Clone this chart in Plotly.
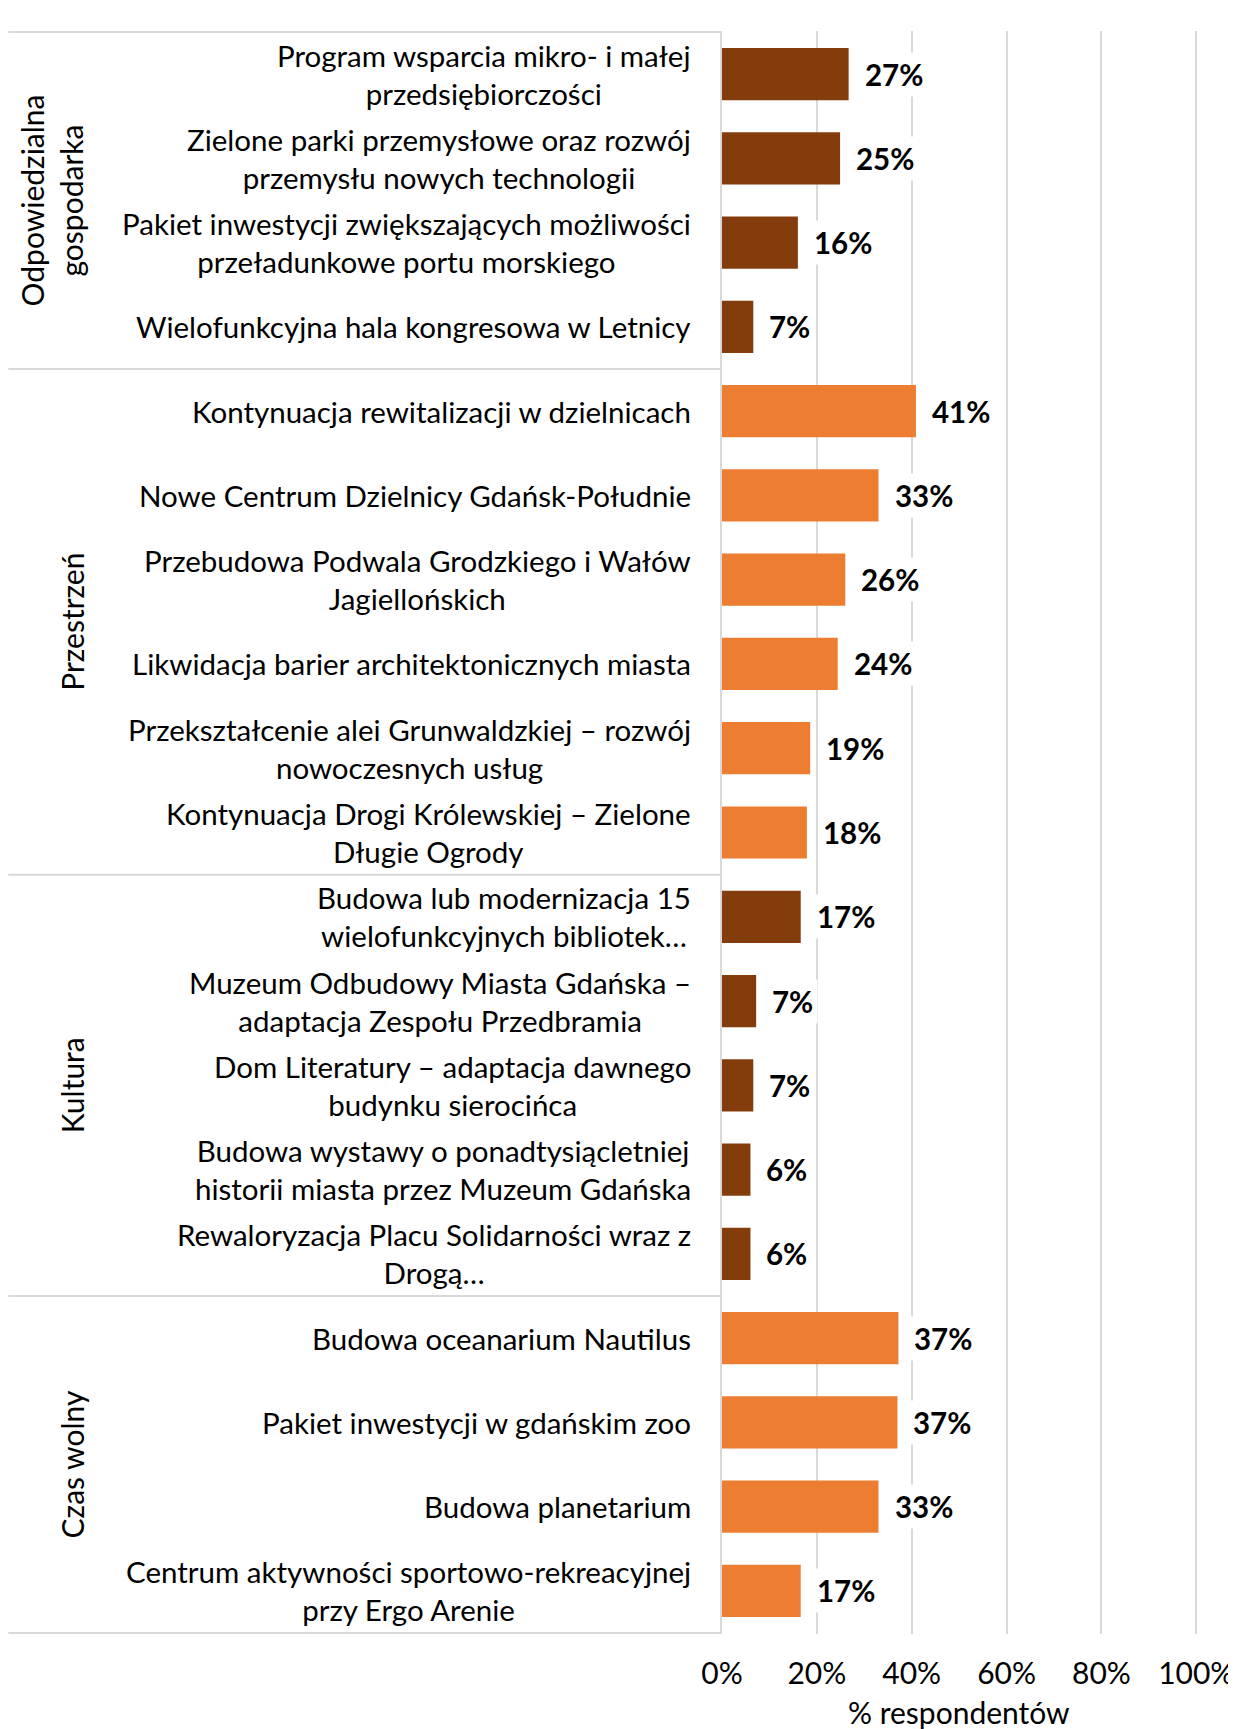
import plotly.graph_objects as go

# ---- data ----
categories = [
    "Program wsparcia mikro- i małej<br>przedsiębiorczości",
    "Zielone parki przemysłowe oraz rozwój<br>przemysłu nowych technologii",
    "Pakiet inwestycji zwiększających możliwości<br>przeładunkowe portu morskiego",
    "Wielofunkcyjna hala kongresowa w Letnicy",
    "Kontynuacja rewitalizacji w dzielnicach",
    "Nowe Centrum Dzielnicy Gdańsk-Południe",
    "Przebudowa Podwala Grodzkiego i Wałów<br>Jagiellońskich",
    "Likwidacja barier architektonicznych miasta",
    "Przekształcenie alei Grunwaldzkiej – rozwój<br>nowoczesnych usług",
    "Kontynuacja Drogi Królewskiej – Zielone<br>Długie Ogrody",
    "Budowa lub modernizacja 15<br>wielofunkcyjnych bibliotek…",
    "Muzeum Odbudowy Miasta Gdańska –<br>adaptacja Zespołu Przedbramia",
    "Dom Literatury – adaptacja dawnego<br>budynku sierocińca",
    "Budowa wystawy o ponadtysiącletniej<br>historii miasta przez Muzeum Gdańska",
    "Rewaloryzacja Placu Solidarności wraz z<br>Drogą…",
    "Budowa oceanarium Nautilus",
    "Pakiet inwestycji w gdańskim zoo",
    "Budowa planetarium",
    "Centrum aktywności sportowo-rekreacyjnej<br>przy Ergo Arenie",
]
values = [0.267, 0.249, 0.160, 0.066, 0.409, 0.330, 0.260, 0.244, 0.186, 0.179,
          0.166, 0.072, 0.066, 0.060, 0.060, 0.372, 0.370, 0.330, 0.166]
groups = ["Odpowiedzialna<br>gospodarka", "Przestrzeń", "Kultura", "Czas wolny"]
group_sizes = [4, 6, 5, 4]
group_colors = ["#843C0C", "#ED7D31", "#843C0C", "#ED7D31"]
x_ticks = [0, 0.2, 0.4, 0.6, 0.8, 1.0]
x_title = "% respondentów"

FONT = "Lato, Carlito, Calibri, 'Liberation Sans', sans-serif"
LBL = 29.5

bar_colors = []
for c, n in zip(group_colors, group_sizes):
    bar_colors += [c] * n

fig = go.Figure()
fig.add_trace(go.Bar(
    x=values, y=categories, orientation="h",
    marker=dict(color=bar_colors, line=dict(width=0)),
    hoverinfo="skip",
))

annotations = []
# category labels (centered multi-line, right anchored)
for cat in categories:
    annotations.append(dict(
        x=0, xref="x domain", y=cat, yref="y", text=cat,
        xanchor="right", yanchor="middle", align="center", xshift=-29,
        showarrow=False, font=dict(family=FONT, size=LBL, color="#000000"),
    ))
# data labels
for cat, v in zip(categories, values):
    annotations.append(dict(
        x=v, xref="x", y=cat, yref="y", text=f"<b>{v:.0%}</b>",
        xanchor="left", yanchor="middle", xshift=11,
        showarrow=False, bgcolor="#FFFFFF", borderpad=4,
        font=dict(family=FONT, size=29.5, color="#000000"),
    ))

# group separators and group labels
shapes = []
start = 0
bounds = [-0.5]
for g, n in zip(groups, group_sizes):
    end = start + n
    bounds.append(end - 0.5)
    mid = (start + end - 1) / 2
    two_line = "<br>" in g
    annotations.append(dict(
        x=0, xref="paper", y=mid, yref="y", text=g, textangle=-90,
        xanchor="center", yanchor="middle", align="center",
        xshift=-670 if two_line else -650,
        showarrow=False, font=dict(family=FONT, size=30, color="#000000"),
    ))
    start = end
for b in bounds:
    shapes.append(dict(
        type="line", xref="paper", yref="y", x0=-1.49, x1=0, y0=b, y1=b,
        line=dict(color="#D9D9D9", width=2),
    ))

# x axis title
annotations.append(dict(
    x=0.5 / 1.01, xref="x domain", y=0, yref="paper", text=x_title,
    xanchor="center", yanchor="top", yshift=-58, showarrow=False,
    font=dict(family=FONT, size=30, color="#000000"),
))

# page body has an 8px margin; compensate so the chart sits like the reference
fig.update_layout(
    width=1228, height=1721,
    margin=dict(l=713.5, r=34.6, t=22.7, b=95, autoexpand=False),
    paper_bgcolor="#FFFFFF", plot_bgcolor="#FFFFFF",
    bargap=0.38, showlegend=False,
    font=dict(family=FONT, color="#000000"),
    annotations=annotations, shapes=shapes,
)
fig.update_xaxes(
    range=[0, 1.01], tickvals=x_ticks, tickformat=".0%",
    showgrid=True, gridcolor="#D9D9D9", gridwidth=2,
    zeroline=False, showline=False, ticks="", automargin=False,
    tickfont=dict(family=FONT, size=30, color="#000000"),
    ticklabelstandoff=19,
)
fig.update_yaxes(
    type="category", autorange="reversed", automargin=False,
    showticklabels=False, showgrid=False, zeroline=False,
    showline=True, linecolor="#D9D9D9", linewidth=2, ticks="",
)

fig.write_html("out.html")
